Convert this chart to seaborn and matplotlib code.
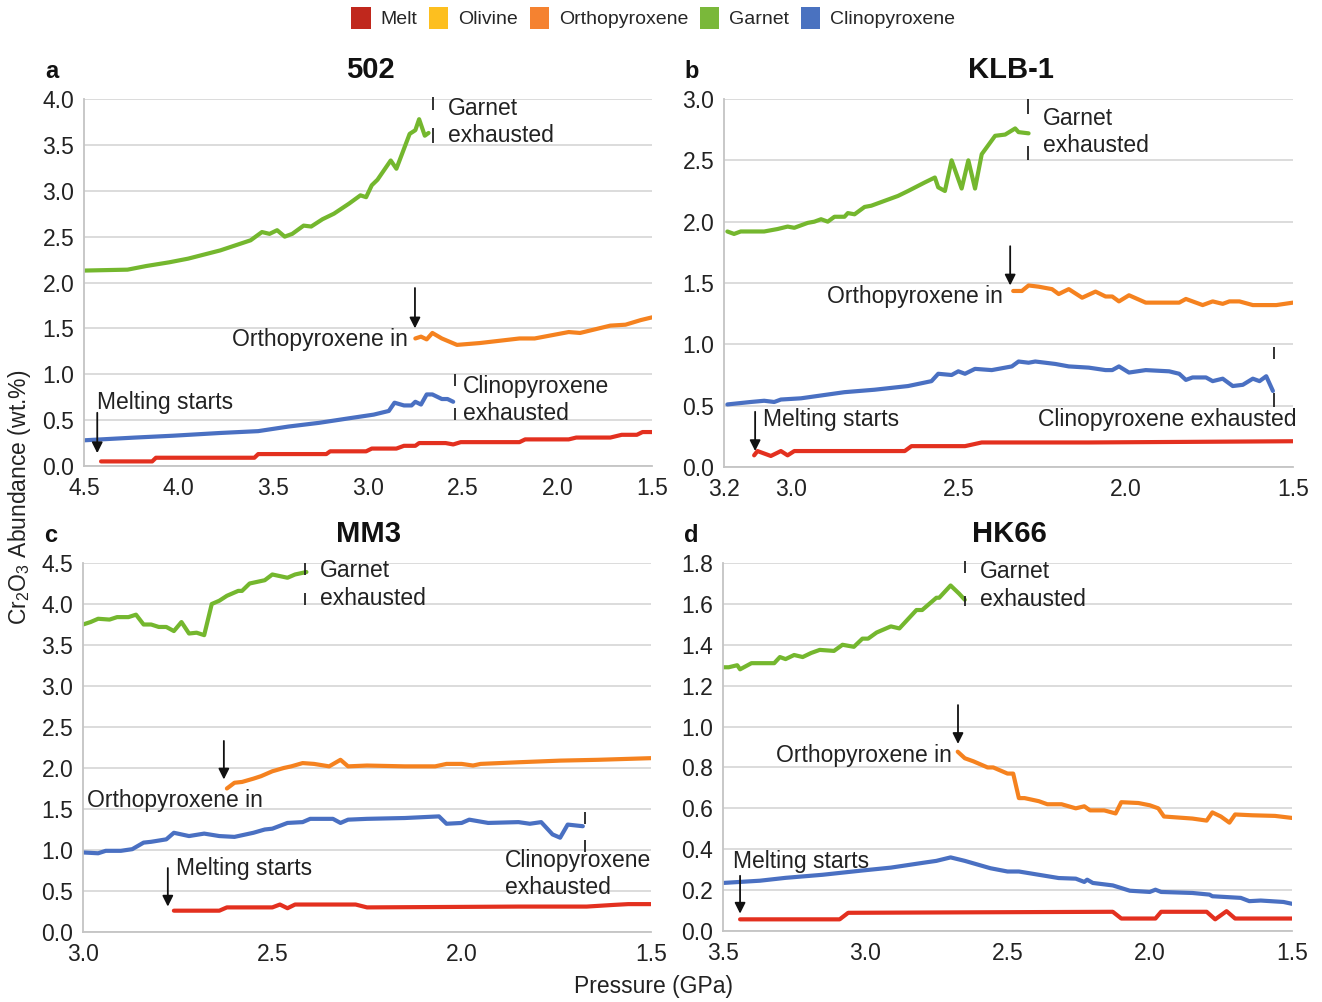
import numpy as np
import pandas as pd
import matplotlib
matplotlib.use("Agg")
import matplotlib.pyplot as plt
import seaborn as sns
from matplotlib.patches import Patch

# ---------------------------------------------------------------------------
# Cr2O3 content (wt.%) of each phase versus pressure (GPa)
# ---------------------------------------------------------------------------
phases = ["Melt", "Olivine", "Orthopyroxene", "Garnet", "Clinopyroxene"]
legend_colors = ["#c0281d", "#fdbf1f", "#f58230", "#7ab83a", "#4a72c0"]
line_colors = {"Melt": "#e3301f", "Orthopyroxene": "#f5821f",
               "Garnet": "#74b72e", "Clinopyroxene": "#4a70c2"}

# --- 502 ---
a_grt_p = [4.50, 4.27, 4.17, 4.05, 3.95, 3.78, 3.62, 3.56, 3.52, 3.48, 3.44, 3.40, 3.34, 3.30,
           3.24, 3.18, 3.10, 3.04, 3.01, 2.98, 2.95, 2.88, 2.85, 2.78, 2.75, 2.73, 2.70, 2.68]
a_grt_v = [2.13, 2.14, 2.18, 2.22, 2.26, 2.35, 2.46, 2.55, 2.53, 2.57, 2.50, 2.53, 2.62, 2.61,
           2.69, 2.75, 2.86, 2.95, 2.93, 3.06, 3.12, 3.33, 3.24, 3.62, 3.66, 3.78, 3.60, 3.63]
a_opx_p = [2.75, 2.72, 2.69, 2.66, 2.61, 2.53, 2.41, 2.20, 2.12, 1.94, 1.88, 1.72, 1.64, 1.56, 1.50]
a_opx_v = [1.39, 1.41, 1.38, 1.45, 1.39, 1.32, 1.34, 1.39, 1.39, 1.46, 1.45, 1.53, 1.54, 1.59, 1.62]
a_cpx_p = [4.50, 4.23, 4.03, 3.78, 3.58, 3.50, 3.42, 3.26, 3.10, 2.97, 2.89, 2.86, 2.81, 2.77,
           2.75, 2.72, 2.69, 2.66, 2.61, 2.58, 2.55]
a_cpx_v = [0.28, 0.31, 0.33, 0.36, 0.38, 0.405, 0.43, 0.47, 0.52, 0.56, 0.60, 0.69, 0.66, 0.66,
           0.70, 0.67, 0.78, 0.78, 0.73, 0.73, 0.70]
a_melt_p = [4.41, 4.14, 4.12, 3.60, 3.58, 3.22, 3.20, 3.01, 2.98, 2.85, 2.81, 2.75, 2.73, 2.59,
            2.55, 2.51, 2.20, 2.17, 1.94, 1.90, 1.72, 1.66, 1.58, 1.55, 1.50]
a_melt_v = [0.05, 0.05, 0.09, 0.09, 0.13, 0.13, 0.16, 0.16, 0.19, 0.19, 0.22, 0.22, 0.25, 0.25,
            0.235, 0.26, 0.26, 0.29, 0.29, 0.31, 0.31, 0.34, 0.34, 0.37, 0.37]

# --- KLB-1 ---
b_grt_p = [3.19, 3.17, 3.15, 3.08, 3.04, 3.01, 2.99, 2.95, 2.93, 2.91, 2.89, 2.87, 2.84, 2.83,
           2.81, 2.78, 2.76, 2.73, 2.68, 2.65, 2.60, 2.57, 2.56, 2.54, 2.52, 2.49, 2.47, 2.45,
           2.43, 2.39, 2.36, 2.33, 2.32, 2.29]
b_grt_v = [1.92, 1.90, 1.92, 1.92, 1.94, 1.96, 1.95, 1.99, 2.00, 2.02, 2.00, 2.04, 2.04, 2.07,
           2.06, 2.12, 2.13, 2.16, 2.21, 2.25, 2.32, 2.36, 2.28, 2.25, 2.50, 2.27, 2.50, 2.27,
           2.55, 2.70, 2.71, 2.76, 2.73, 2.72]
b_opx_p = [2.336, 2.31, 2.29, 2.26, 2.22, 2.20, 2.17, 2.13, 2.09, 2.06, 2.04, 2.02, 1.99, 1.94,
           1.84, 1.82, 1.77, 1.74, 1.71, 1.69, 1.66, 1.62, 1.55, 1.50]
b_opx_v = [1.435, 1.435, 1.48, 1.47, 1.45, 1.41, 1.45, 1.38, 1.43, 1.39, 1.39, 1.35, 1.40, 1.34,
           1.34, 1.37, 1.32, 1.35, 1.33, 1.35, 1.35, 1.32, 1.32, 1.34]
b_cpx_p = [3.19, 3.12, 3.08, 3.05, 3.03, 2.97, 2.84, 2.75, 2.65, 2.58, 2.56, 2.52, 2.50, 2.48,
           2.45, 2.40, 2.34, 2.32, 2.29, 2.27, 2.21, 2.17, 2.11, 2.06, 2.04, 2.02, 1.99, 1.94,
           1.87, 1.84, 1.82, 1.80, 1.76, 1.74, 1.71, 1.68, 1.65, 1.62, 1.60, 1.58, 1.56]
b_cpx_v = [0.51, 0.53, 0.54, 0.53, 0.55, 0.56, 0.61, 0.63, 0.66, 0.70, 0.76, 0.75, 0.78, 0.76,
           0.80, 0.79, 0.82, 0.86, 0.85, 0.86, 0.84, 0.82, 0.81, 0.79, 0.79, 0.82, 0.77, 0.79,
           0.78, 0.76, 0.71, 0.73, 0.73, 0.70, 0.72, 0.66, 0.67, 0.72, 0.70, 0.74, 0.62]
b_melt_p = [3.11, 3.10, 3.06, 3.03, 3.01, 2.99, 2.66, 2.64, 2.48, 2.43, 2.11, 1.50]
b_melt_v = [0.095, 0.13, 0.09, 0.13, 0.095, 0.13, 0.13, 0.17, 0.17, 0.20, 0.20, 0.21]

# --- MM3 ---
c_grt_p = [3.00, 2.98, 2.96, 2.93, 2.91, 2.88, 2.86, 2.84, 2.82, 2.80, 2.78, 2.76, 2.74, 2.72,
           2.70, 2.68, 2.66, 2.64, 2.62, 2.59, 2.58, 2.56, 2.52, 2.50, 2.48, 2.46, 2.44, 2.41]
c_grt_v = [3.75, 3.78, 3.82, 3.81, 3.84, 3.84, 3.87, 3.75, 3.75, 3.72, 3.72, 3.67, 3.78, 3.64,
           3.65, 3.62, 4.00, 4.04, 4.10, 4.16, 4.16, 4.25, 4.29, 4.36, 4.34, 4.32, 4.36, 4.39]
c_opx_p = [2.62, 2.60, 2.58, 2.55, 2.53, 2.50, 2.47, 2.45, 2.42, 2.39, 2.35, 2.32, 2.30, 2.25,
           2.15, 2.07, 2.04, 2.00, 1.97, 1.95, 1.85, 1.74, 1.64, 1.50]
c_opx_v = [1.75, 1.82, 1.83, 1.87, 1.90, 1.96, 2.00, 2.02, 2.06, 2.05, 2.02, 2.10, 2.02, 2.03,
           2.02, 2.02, 2.05, 2.05, 2.03, 2.05, 2.07, 2.09, 2.10, 2.12]
c_cpx_p = [3.00, 2.96, 2.94, 2.90, 2.87, 2.84, 2.82, 2.78, 2.76, 2.72, 2.68, 2.64, 2.60, 2.55,
           2.52, 2.50, 2.46, 2.42, 2.40, 2.34, 2.32, 2.30, 2.25, 2.15, 2.06, 2.04, 2.00, 1.98,
           1.93, 1.85, 1.82, 1.79, 1.76, 1.74, 1.72, 1.68]
c_cpx_v = [0.97, 0.96, 0.99, 0.99, 1.01, 1.09, 1.10, 1.13, 1.21, 1.17, 1.20, 1.17, 1.16, 1.21,
           1.25, 1.26, 1.33, 1.34, 1.38, 1.38, 1.33, 1.37, 1.38, 1.39, 1.41, 1.32, 1.33, 1.37,
           1.33, 1.34, 1.32, 1.34, 1.19, 1.15, 1.31, 1.29]
c_melt_p = [2.76, 2.64, 2.62, 2.50, 2.48, 2.46, 2.44, 2.28, 2.25, 1.85, 1.67, 1.60, 1.56, 1.50]
c_melt_v = [0.26, 0.26, 0.30, 0.30, 0.335, 0.29, 0.335, 0.335, 0.30, 0.31, 0.31, 0.33, 0.34, 0.34]

# --- HK66 ---
d_grt_p = [3.50, 3.48, 3.45, 3.44, 3.40, 3.32, 3.30, 3.28, 3.25, 3.22, 3.19, 3.16, 3.11, 3.08,
           3.04, 3.01, 2.99, 2.96, 2.91, 2.88, 2.82, 2.80, 2.75, 2.74, 2.70, 2.67, 2.65]
d_grt_v = [1.29, 1.29, 1.30, 1.28, 1.31, 1.31, 1.34, 1.33, 1.35, 1.34, 1.36, 1.375, 1.37, 1.40,
           1.39, 1.43, 1.43, 1.46, 1.49, 1.48, 1.57, 1.57, 1.63, 1.63, 1.69, 1.65, 1.62]
d_opx_p = [2.675, 2.65, 2.62, 2.57, 2.55, 2.50, 2.48, 2.46, 2.44, 2.39, 2.36, 2.31, 2.26, 2.23,
           2.21, 2.16, 2.12, 2.10, 2.04, 2.00, 1.97, 1.95, 1.85, 1.80, 1.78, 1.75, 1.72, 1.70,
           1.64, 1.56, 1.53, 1.50]
d_opx_v = [0.877, 0.845, 0.83, 0.80, 0.80, 0.77, 0.77, 0.65, 0.65, 0.635, 0.62, 0.62, 0.60, 0.61,
           0.59, 0.59, 0.575, 0.63, 0.626, 0.615, 0.60, 0.56, 0.55, 0.54, 0.58, 0.56, 0.53, 0.57,
           0.566, 0.563, 0.558, 0.553]
d_cpx_p = [3.50, 3.37, 3.28, 3.15, 3.01, 2.91, 2.79, 2.75, 2.70, 2.65, 2.56, 2.50, 2.46, 2.39,
           2.32, 2.26, 2.23, 2.22, 2.20, 2.13, 2.07, 2.00, 1.98, 1.96, 1.85, 1.79, 1.78, 1.68,
           1.65, 1.61, 1.53, 1.50]
d_cpx_v = [0.235, 0.246, 0.26, 0.275, 0.296, 0.31, 0.335, 0.343, 0.36, 0.343, 0.307, 0.291,
           0.291, 0.275, 0.259, 0.256, 0.24, 0.251, 0.235, 0.223, 0.197, 0.191, 0.202, 0.191,
           0.186, 0.178, 0.17, 0.162, 0.146, 0.149, 0.142, 0.133]
d_melt_p = [3.44, 3.09, 3.06, 2.13, 2.10, 1.98, 1.96, 1.80, 1.77, 1.73, 1.70, 1.50]
d_melt_v = [0.057, 0.057, 0.089, 0.094, 0.061, 0.061, 0.094, 0.094, 0.057, 0.097, 0.061, 0.061]

titles = ["502", "KLB-1", "MM3", "HK66"]
letters = ["a", "b", "c", "d"]


def frame(series):
    parts = []
    for name, (p, v) in series.items():
        parts.append(pd.DataFrame({"P": p, "Cr2O3": v, "phase": name}))
    return pd.concat(parts, ignore_index=True)


panels = [
    dict(data=frame({"Garnet": (a_grt_p, a_grt_v), "Orthopyroxene": (a_opx_p, a_opx_v),
                     "Clinopyroxene": (a_cpx_p, a_cpx_v), "Melt": (a_melt_p, a_melt_v)}),
         xlim=(4.5, 1.5), xticks=[4.5, 4.0, 3.5, 3.0, 2.5, 2.0, 1.5],
         ylim=(0, 4.0), yticks=np.arange(0, 4.01, 0.5),
         box=(84, 652, 99, 466)),
    dict(data=frame({"Garnet": (b_grt_p, b_grt_v), "Orthopyroxene": (b_opx_p, b_opx_v),
                     "Clinopyroxene": (b_cpx_p, b_cpx_v), "Melt": (b_melt_p, b_melt_v)}),
         xlim=(3.2, 1.5), xticks=[3.2, 3.0, 2.5, 2.0, 1.5],
         ylim=(0, 3.0), yticks=np.arange(0, 3.01, 0.5),
         box=(724, 1293, 99, 467)),
    dict(data=frame({"Garnet": (c_grt_p, c_grt_v), "Orthopyroxene": (c_opx_p, c_opx_v),
                     "Clinopyroxene": (c_cpx_p, c_cpx_v), "Melt": (c_melt_p, c_melt_v)}),
         xlim=(3.0, 1.5), xticks=[3.0, 2.5, 2.0, 1.5],
         ylim=(0, 4.5), yticks=np.arange(0, 4.51, 0.5),
         box=(83, 651, 563, 932)),
    dict(data=frame({"Garnet": (d_grt_p, d_grt_v), "Orthopyroxene": (d_opx_p, d_opx_v),
                     "Clinopyroxene": (d_cpx_p, d_cpx_v), "Melt": (d_melt_p, d_melt_v)}),
         xlim=(3.5, 1.5), xticks=[3.5, 3.0, 2.5, 2.0, 1.5],
         ylim=(0, 1.8), yticks=np.arange(0, 1.81, 0.2),
         box=(723, 1292, 563, 931)),
]

sns.set_theme(style="whitegrid")
plt.rcParams["font.family"] = ["Liberation Sans", "DejaVu Sans"]
plt.rcParams["mathtext.default"] = "regular"

W, H = 1322, 1002
fig = plt.figure(figsize=(W / 100, H / 100), dpi=100)

TICK = 16.5
TXT = 16.5
GRID = "#d9d9d9"
SPINE = "#c4c4c4"
INK = "#222222"

axes = []
for i, pn in enumerate(panels):
    l, r, t, b = pn["box"]
    ax = fig.add_axes([l / W, 1 - b / H, (r - l) / W, (b - t) / H])
    axes.append(ax)
    sns.lineplot(data=pn["data"], x="P", y="Cr2O3", hue="phase", palette=line_colors,
                 estimator=None, sort=False, linewidth=3.0, legend=False, ax=ax)
    ax.set_xlim(*pn["xlim"])
    ax.set_ylim(*pn["ylim"])
    ax.set_xticks(pn["xticks"])
    ax.set_yticks(pn["yticks"])
    ax.set_xticklabels([f"{v:.1f}" for v in pn["xticks"]], fontsize=TICK, color=INK)
    ax.set_yticklabels([f"{v:.1f}" for v in pn["yticks"]], fontsize=TICK, color=INK)
    ax.tick_params(axis="x", length=0, pad=8)
    ax.tick_params(axis="y", length=0, pad=7)
    ax.grid(axis="x", visible=False)
    ax.grid(axis="y", color=GRID, linewidth=1.3)
    ax.set_axisbelow(True)
    for s in ["top", "right"]:
        ax.spines[s].set_visible(False)
    for s in ["left", "bottom"]:
        ax.spines[s].set_color(SPINE)
        ax.spines[s].set_linewidth(1.3)
    ax.set_xlabel("")
    ax.set_ylabel("")
    ax.set_facecolor("white")
    # panel title and letter
    fig.text(((l + r) / 2 + 2) / W, 1 - 70 / H if i < 2 else 1 - 534 / H, titles[i],
             ha="center", va="center", fontsize=21, fontweight="bold", color="#111111")
    fig.text((l - 32) / W, 1 - 72 / H if i < 2 else 1 - 536 / H, letters[i],
             ha="center", va="center", fontsize=17, fontweight="bold", color="#111111")


def bar(ax, x, y0, y1):
    ax.plot([x, x], [y0, y1], color=INK, lw=1.3, clip_on=False, solid_capstyle="butt")


def arrow(ax, x, y_top, y_bot):
    ax.annotate("", xy=(x, y_bot), xytext=(x, y_top),
                arrowprops=dict(arrowstyle="-|>", color="#111111", lw=1.3,
                                mutation_scale=16, shrinkA=0, shrinkB=0))


def label(ax, x, y, s, ha="left"):
    ax.text(x, y, s, ha=ha, va="center", fontsize=TXT, color=INK)


# 502
ax = axes[0]
bar(ax, 2.657, 3.88, 4.02); bar(ax, 2.657, 3.52, 3.68)
label(ax, 2.578, 3.90, "Garnet"); label(ax, 2.578, 3.60, "exhausted")
arrow(ax, 2.752, 1.94, 1.50)
label(ax, 2.789, 1.38, "Orthopyroxene in", ha="right")
bar(ax, 2.54, 0.87, 1.00); bar(ax, 2.54, 0.50, 0.63)
label(ax, 2.50, 0.87, "Clinopyroxene"); label(ax, 2.50, 0.57, "exhausted")
arrow(ax, 4.43, 0.58, 0.14)
label(ax, 4.43, 0.69, "Melting starts")

# KLB-1
ax = axes[1]
bar(ax, 2.292, 2.88, 3.0); bar(ax, 2.292, 2.50, 2.62)
label(ax, 2.247, 2.845, "Garnet"); label(ax, 2.247, 2.62, "exhausted")
arrow(ax, 2.345, 1.80, 1.48)
label(ax, 2.366, 1.386, "Orthopyroxene in", ha="right")
bar(ax, 1.557, 0.88, 0.98); bar(ax, 1.557, 0.49, 0.60)
label(ax, 1.491, 0.39, "Clinopyroxene exhausted", ha="right")
arrow(ax, 3.107, 0.45, 0.13)
label(ax, 3.083, 0.39, "Melting starts")

# MM3
ax = axes[2]
bar(ax, 2.414, 4.35, 4.5); bar(ax, 2.414, 3.99, 4.13)
label(ax, 2.374, 4.41, "Garnet"); label(ax, 2.374, 4.07, "exhausted")
arrow(ax, 2.628, 2.33, 1.86)
label(ax, 2.99, 1.60, "Orthopyroxene in")
bar(ax, 1.674, 1.32, 1.46); bar(ax, 1.674, 0.98, 1.12)
label(ax, 1.886, 0.87, "Clinopyroxene"); label(ax, 1.886, 0.54, "exhausted")
arrow(ax, 2.776, 0.78, 0.31)
label(ax, 2.754, 0.77, "Melting starts")

# HK66
ax = axes[3]
bar(ax, 2.649, 1.75, 1.81); bar(ax, 2.649, 1.59, 1.64)
label(ax, 2.597, 1.76, "Garnet"); label(ax, 2.597, 1.62, "exhausted")
arrow(ax, 2.674, 1.105, 0.915)
label(ax, 2.695, 0.856, "Orthopyroxene in", ha="right")
arrow(ax, 3.44, 0.27, 0.085)
label(ax, 3.465, 0.34, "Melting starts")

# shared axis titles
fig.text(20 / W, 1 - 497 / H, "Cr$_2$O$_3$ Abundance (wt.%)", rotation=90,
         ha="center", va="center", fontsize=TXT, color=INK)
fig.text(653 / W, 1 - 987 / H, "Pressure (GPa)", ha="center", va="center",
         fontsize=TXT, color=INK)

# legend of phases
handles = [Patch(facecolor=c, edgecolor="none", label=n) for n, c in zip(phases, legend_colors)]
fig.legend(handles=handles, loc="center", bbox_to_anchor=(653 / W, 1 - 18 / H), ncol=5,
           frameon=False, fontsize=14, handlelength=1.0, handleheight=1.35,
           handletextpad=0.5, columnspacing=0.6)

fig.savefig("out.png", dpi=100, facecolor="white")
